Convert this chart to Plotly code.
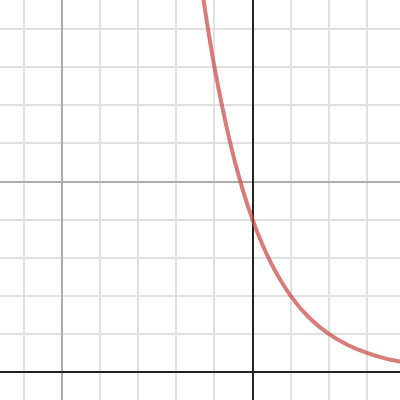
import plotly.graph_objects as go

# points (graph units)
curve_x = [-1.35, -1.0, -0.5, 0.0, 0.5, 1.0, 1.5, 2.0, 2.5, 3.0, 3.5, 3.95]
curve_y = [10.2, 8.0, 5.66, 4.0, 2.83, 2.0, 1.41, 1.0, 0.71, 0.5, 0.35, 0.26]

# visible window
x_range = [-6.63, 3.87]
y_range = [-0.735, 9.765]

fig = go.Figure()

fig.add_trace(go.Scatter(
    x=curve_x,
    y=curve_y,
    mode="lines",
    line=dict(color="rgba(199,68,64,0.7)", width=4, shape="spline", smoothing=1),
    hoverinfo="skip",
    showlegend=False
))

axis_style = dict(
    showticklabels=False,
    ticks="",
    showline=False,
    showgrid=True,
    dtick=5,
    tick0=0,
    gridcolor="#ababab",
    gridwidth=1.5,
    zeroline=True,
    zerolinecolor="#222222",
    zerolinewidth=2,
    minor=dict(dtick=1, tick0=0, showgrid=True, gridcolor="#e0e0e0", gridwidth=1.5),
    fixedrange=True
)

fig.update_layout(
    width=400,
    height=400,
    margin=dict(l=0, r=0, t=0, b=0),
    paper_bgcolor="white",
    plot_bgcolor="white",
    xaxis=dict(range=x_range, **axis_style),
    yaxis=dict(range=y_range, **axis_style),
    showlegend=False
)

# drop the page's default body margin so the plot fills the window
fig.write_html("out.html", post_script="document.body.style.margin='0';",
               config={"displayModeBar": False})
